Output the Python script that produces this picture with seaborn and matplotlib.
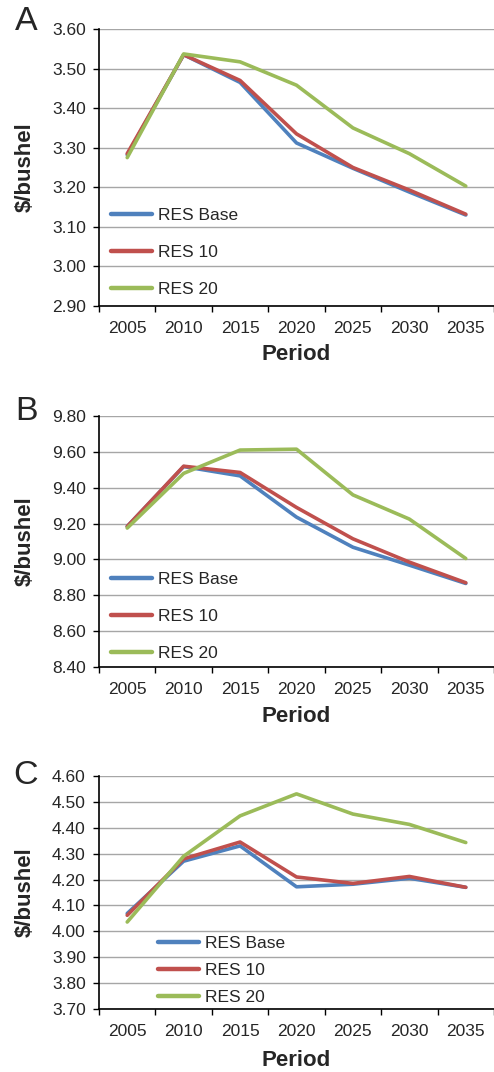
import numpy as np
import pandas as pd
import matplotlib.pyplot as plt
import seaborn as sns

# data
periods = ["2005", "2010", "2015", "2020", "2025", "2030", "2035"]
series = ["RES Base", "RES 10", "RES 20"]
colors = ["#4F81BD", "#C0504D", "#9BBB59"]

# panel A
a_base = [3.282, 3.535, 3.465, 3.312, 3.248, 3.188, 3.130]
a_res10 = [3.285, 3.535, 3.470, 3.335, 3.250, 3.193, 3.132]
a_res20 = [3.275, 3.537, 3.517, 3.458, 3.350, 3.285, 3.203]

# panel B
b_base = [9.184, 9.518, 9.466, 9.236, 9.068, 8.968, 8.866]
b_res10 = [9.184, 9.520, 9.485, 9.290, 9.115, 8.985, 8.870]
b_res20 = [9.175, 9.480, 9.610, 9.615, 9.360, 9.225, 9.005]

# panel C
c_base = [4.069, 4.271, 4.330, 4.172, 4.182, 4.205, 4.170]
c_res10 = [4.062, 4.280, 4.345, 4.210, 4.185, 4.212, 4.170]
c_res20 = [4.036, 4.290, 4.446, 4.531, 4.453, 4.413, 4.343]

sns.set_style("white")
plt.rcParams['font.family'] = ['Liberation Sans', 'DejaVu Sans']

W, H = 494, 1072
fig = plt.figure(figsize=(W / 100, H / 100), dpi=100)


def make_df(base, r10, r20):
    rows = []
    for name, vals in zip(series, [base, r10, r20]):
        for i, v in enumerate(vals):
            rows.append({"pos": i, "price": v, "scenario": name})
    return pd.DataFrame(rows)


# (top px, bottom px, ylim, ystep, letter, letter y, period y, legend)
panels = [
    (29, 306, (2.90, 3.60), 0.10, "A", 22, 355,
     dict(loc="upper left", bbox_to_anchor=(0.030, 0.354), labelspacing=1.25)),
    (416, 667, (8.40, 9.80), 0.20, "B", 412, 717,
     dict(loc="upper left", bbox_to_anchor=(0.030, 0.378), labelspacing=1.25)),
    (776, 1009, (3.70, 4.60), 0.10, "C", 775, 1061,
     dict(loc="upper left", bbox_to_anchor=(0.149, 0.313), labelspacing=0.68)),
]
data = [(a_base, a_res10, a_res20), (b_base, b_res10, b_res20), (c_base, c_res10, c_res20)]

left, right = 99, 494
for (top, bot, ylim, step, letter, ly, py, leg), vals in zip(panels, data):
    ax = fig.add_axes([left / W, 1 - bot / H, (right - left) / W, (bot - top) / H])
    df = make_df(*vals)
    sns.lineplot(data=df, x="pos", y="price", hue="scenario", palette=colors,
                 hue_order=series, linewidth=2.6, ax=ax, legend=False)

    ax.set_xlim(-0.5, 6.5)
    ax.set_ylim(*ylim)
    yt = np.arange(ylim[0], ylim[1] + step / 2, step)
    ax.set_yticks(yt)
    ax.set_yticklabels([f"{v:.2f}" for v in yt], fontsize=12.5)
    ax.yaxis.grid(True, color="#A6A6A6", linewidth=1.0)
    ax.set_axisbelow(True)

    # ticks at category boundaries, labels at centers
    ax.set_xticks(np.arange(-0.5, 7, 1))
    ax.set_xticklabels([])
    ax.set_xticks(np.arange(7), minor=True)
    ax.set_xticklabels(periods, minor=True, fontsize=12.5)
    ax.tick_params(axis="x", which="major", direction="out", length=4.5, width=1, color="black", bottom=True)
    ax.tick_params(axis="x", which="minor", length=0, pad=10.5)
    ax.tick_params(axis="y", direction="out", length=4.5, width=1, color="black", left=True, pad=5)

    for s in ["top", "right"]:
        ax.spines[s].set_visible(False)
    for s in ["left", "bottom"]:
        ax.spines[s].set_color("black")
        ax.spines[s].set_linewidth(1.2)

    ax.set_ylabel("$/bushel", fontsize=16, fontweight="bold")
    ax.yaxis.set_label_coords((25 - left) / (right - left), 0.5)
    ax.set_xlabel("Period", fontsize=16, fontweight="bold")
    ax.xaxis.set_label_coords(0.5, (bot - py) / (bot - top))
    ax.xaxis.label.set_va("center")
    ax.yaxis.label.set_va("center")

    handles = [plt.Line2D([], [], color=c, linewidth=3.2) for c in colors]
    ax.legend(handles, series, frameon=False, fontsize=12.5, handlelength=2.36,
              handletextpad=0.35, borderaxespad=0, borderpad=0, **leg)

    fig.text(26 / W, 1 - ly / H, letter, fontsize=24.5, ha="center", va="center")

fig.savefig("out.png", dpi=100)
